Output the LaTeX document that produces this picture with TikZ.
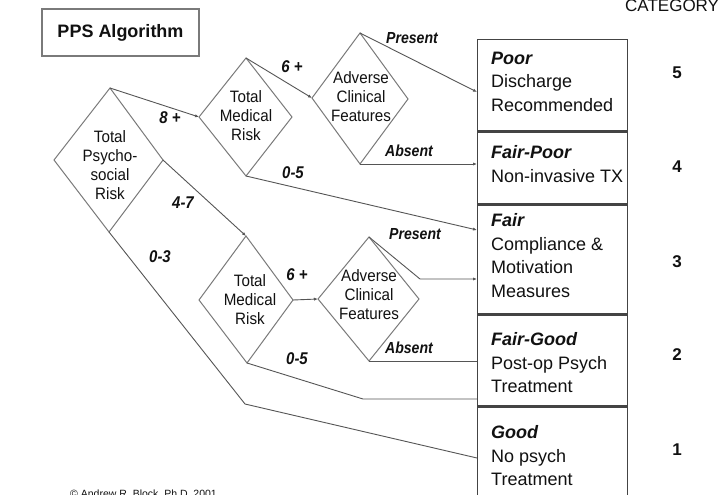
\documentclass[tikz,border=0pt]{standalone}
\usepackage{fontspec}
\setmainfont{Liberation Sans}
\newfontfamily\narrowsans[FakeStretch=0.88]{Liberation Sans}
\newfontfamily\diamsans[FakeStretch=0.92]{Liberation Sans}
\usetikzlibrary{arrows.meta}
\definecolor{diamgray}{HTML}{7A7A7A}
\definecolor{linegray}{HTML}{555555}
\definecolor{boxgray}{HTML}{444444}
\definecolor{ink}{HTML}{111111}
\begin{document}
\begin{tikzpicture}[x=1pt,y=-1pt,
  diam/.style={draw=diamgray, line width=1pt, line join=miter},
  conn/.style={draw=linegray, line width=0.9pt},
  arr/.style={conn, -{Latex[length=4pt,width=3.2pt]}},
  dtext/.style={font=\diamsans\fontsize{16.5}{19}\selectfont, align=center, inner sep=0, text=ink},
  lab/.style={font=\narrowsans\bfseries\itshape\fontsize{16}{19}\selectfont, inner sep=0, text=ink},
  numlab/.style={font=\narrowsans\bfseries\itshape\fontsize{17}{19}\selectfont, inner sep=0, text=ink},
  catbox/.style={draw=boxgray, line width=1.4pt, anchor=north west, minimum width=150pt, inner sep=0},
  divider/.style={draw=boxgray, line width=2.2pt},
  btext/.style={font=\fontsize{18}{23.5}\selectfont, align=left, anchor=north west, inner sep=0, text=ink},
  catnum/.style={font=\bfseries\fontsize{17}{19}\selectfont, inner sep=0, text=ink}
]
\useasboundingbox (0,0) rectangle (728,495);
\fill[white] (0,0) rectangle (728,495);
\clip (0,0) rectangle (728,495);

% title
\node[draw=diamgray, line width=1.2pt, minimum width=157pt, minimum height=47pt, inner sep=0,
  font=\bfseries\fontsize{18}{20}\selectfont, text=ink] (title) at (120.5,32.5) {PPS Algorithm};
\node[anchor=base west, inner sep=0, font=\fontsize{17}{19}\selectfont, text=ink] (cat) at (625,12) {CATEGORY};

% diamond vertices
\coordinate (psT) at (110,88);  \coordinate (psL) at (54,160);  \coordinate (psB) at (109,232); \coordinate (psR) at (163,160);
\coordinate (muT) at (246,58);  \coordinate (muL) at (199,117); \coordinate (muB) at (246,176); \coordinate (muR) at (292,117);
\coordinate (auT) at (360,33);  \coordinate (auL) at (312,98);  \coordinate (auB) at (360,164); \coordinate (auR) at (408,99);
\coordinate (mlT) at (246,236); \coordinate (mlL) at (199,300); \coordinate (mlB) at (247,363); \coordinate (mlR) at (293,300);
\coordinate (alT) at (369,237); \coordinate (alL) at (318,299); \coordinate (alB) at (369,361); \coordinate (alR) at (419,299);

\draw[diam] (psT) -- (psR) -- (psB) -- (psL) -- cycle;
\draw[diam] (muT) -- (muR) -- (muB) -- (muL) -- cycle;
\draw[diam] (auT) -- (auR) -- (auB) -- (auL) -- cycle;
\draw[diam] (mlT) -- (mlR) -- (mlB) -- (mlL) -- cycle;
\draw[diam] (alT) -- (alR) -- (alB) -- (alL) -- cycle;

\node[dtext] (psx) at (110,165) {Total\\Psycho-\\social\\Risk};
\node[dtext] (mux) at (246,116) {Total\\Medical\\Risk};
\node[dtext] (aux) at (361,97) {Adverse\\Clinical\\Features};
\node[dtext] (mlx) at (250,300) {Total\\Medical\\Risk};
\node[dtext] (alx) at (369,295) {Adverse\\Clinical\\Features};

% category boxes
\node[catbox, minimum height=91pt]  (b5) at (477,39) {};
\node[catbox, minimum height=73pt]  (b4) at (477,130) {};
\node[catbox, minimum height=110pt] (b3) at (477,203) {};
\node[catbox, minimum height=92pt]  (b2) at (477,313) {};
\node[catbox, minimum height=115pt] (b1) at (477,405) {};
\draw[divider] (b5.south west) -- (b5.south east);
\draw[divider] (b4.south west) -- (b4.south east);
\draw[divider] (b3.south west) -- (b3.south east);
\draw[divider] (b2.south west) -- (b2.south east);

\node[btext] (t5) at (491,51.5)  {\textbf{\textit{Poor}}\\Discharge\\Recommended};
\node[btext] (t4) at (491,145.5) {\textbf{\textit{Fair-Poor}}\\Non-invasive TX};
\node[btext] (t3) at (491,213.5) {\textbf{\textit{Fair}}\\Compliance \&\\Motivation\\Measures};
\node[btext] (t2) at (491,332.5) {\textbf{\textit{Fair-Good}}\\Post-op Psych\\Treatment};
\node[btext] (t1) at (491,425.5) {\textbf{\textit{Good}}\\No psych\\Treatment};

\node[catnum] (n5) at (677,73)  {5};
\node[catnum] (n4) at (677,167) {4};
\node[catnum] (n3) at (677,262) {3};
\node[catnum] (n2) at (677,355) {2};
\node[catnum] (n1) at (677,450) {1};

% connector ends on the boxes
\coordinate (pPoor)  at (477,92);
\coordinate (pFP)    at (477,164);
\coordinate (pFairA) at (477,230);
\coordinate (pFairB) at (477,279);
\coordinate (pFGA)   at (477,361);
\coordinate (pFGB)   at (477,399);
\coordinate (pGood)  at (477,458);
\coordinate (k1) at (420,279);
\coordinate (k2) at (363,399);
\coordinate (k3) at (245,404);

% connectors
\draw[arr] (psT) -- (muL);
\draw[arr] (muT) -- (auL);
\draw[arr] (auT) -- (pPoor);
\draw[arr] (auB) -- (pFP);
\draw[arr] (muB) -- (pFairA);
\draw[arr] (psR) -- (mlT);
\draw[conn] (psB) -- (k3) -- (pGood);
\draw[arr] (mlR) -- (alL);
\draw[arr] (alT) -- (k1) -- (pFairB);
\draw[conn] (alB) -- (pFGA);
\draw[conn] (mlB) -- (k2) -- (pFGB);

% labels
\node[numlab] (l8) at (170,118) {8 +};
\node[numlab] (l6a) at (292,67) {6 +};
\node[numlab] (l05a) at (293,173) {0-5};
\node[numlab] (l47) at (183,203) {4-7};
\node[numlab] (l03) at (160,257) {0-3};
\node[numlab] (l6b) at (297,275) {6 +};
\node[numlab] (l05b) at (297,359) {0-5};
\node[lab] (pra) at (412,38) {Present};
\node[lab] (aba) at (409,151) {Absent};
\node[lab] (prb) at (415,234) {Present};
\node[lab] (abb) at (409,348) {Absent};

\node[anchor=base west, inner sep=0, font=\fontsize{10.5}{12}\selectfont, text=ink] (copy) at (70,497) {© Andrew R. Block, Ph.D. 2001};
\end{tikzpicture}
\end{document}
